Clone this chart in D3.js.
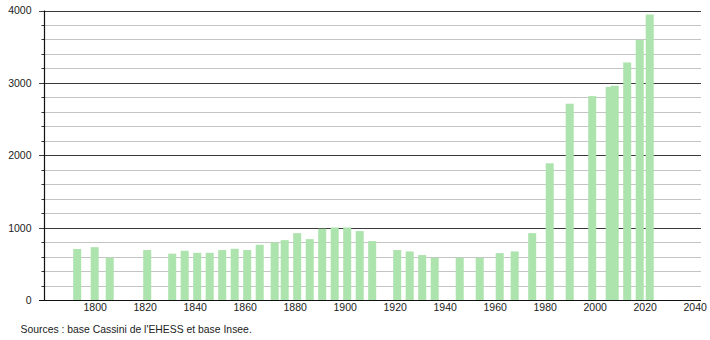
<!DOCTYPE html>
<html>
<head>
<meta charset="utf-8">
<script src="https://cdn.jsdelivr.net/npm/d3@7"></script>
<style>
  body { margin: 0; background: #fff; }
  svg { display: block; font-family: "Liberation Sans", Arial, sans-serif; }
</style>
</head>
<body>
<svg id="chart" width="710" height="340"></svg>
<script>
const years = [1793, 1800, 1806, 1821, 1831, 1836, 1841, 1846, 1851, 1856, 1861, 1866, 1872, 1876, 1881, 1886, 1891, 1896, 1901, 1906, 1911, 1921, 1926, 1931, 1936, 1946, 1954, 1962, 1968, 1975, 1982, 1990, 1999, 2006, 2008, 2013, 2018, 2022];
const population = [705, 730, 585, 690, 640, 680, 652, 652, 690, 708, 690, 763, 795, 827, 924, 841, 985, 1002, 1002, 952, 814, 690, 671, 621, 584, 584, 584, 648, 671, 924, 1889, 2712, 2817, 2945, 2961, 3282, 3595, 3944];
const xTicks = [1800, 1820, 1840, 1860, 1880, 1900, 1920, 1940, 1960, 1980, 2000, 2020, 2040];
const yMajorTicks = [0, 1000, 2000, 3000, 4000];
const yMinorTicks = d3.range(200, 4000, 200).filter(v => v % 1000 !== 0);
const sourceText = "Sources : base Cassini de l'EHESS et base Insee.";

(function () {
const svg = d3.select("#chart");
const mLeft = 44, mRight = 701, mBottom = 300, mTop = 10.5;

const x = d3.scaleLinear().domain([1800, 2040]).range([94.7, 694.7]);
const y = d3.scaleLinear().domain([0, 4000]).range([mBottom, mTop]);

// minor gridlines
svg.append("g").selectAll("line").data(yMinorTicks).join("line")
  .attr("x1", mLeft).attr("x2", mRight)
  .attr("y1", d => Math.round(y(d)) + 0.5).attr("y2", d => Math.round(y(d)) + 0.5)
  .attr("stroke", "#c4c4c4").attr("stroke-width", 1);
// minor tick marks
svg.append("g").selectAll("line").data(yMinorTicks).join("line")
  .attr("x1", mLeft - 2.5).attr("x2", mLeft)
  .attr("y1", d => Math.round(y(d)) + 0.5).attr("y2", d => Math.round(y(d)) + 0.5)
  .attr("stroke", "#333").attr("stroke-width", 1);

// major gridlines
svg.append("g").selectAll("line").data(yMajorTicks.filter(d => d > 0)).join("line")
  .attr("x1", mLeft - 5).attr("x2", mRight)
  .attr("y1", d => Math.round(y(d)) + 0.5).attr("y2", d => Math.round(y(d)) + 0.5)
  .attr("stroke", "#3a3a3a").attr("stroke-width", 1);

// bars
svg.append("g").selectAll("rect").data(years.map((yr, i) => ({yr, v: population[i]}))).join("rect")
  .attr("x", d => x(d.yr) - 4)
  .attr("width", 8)
  .attr("y", d => y(d.v))
  .attr("height", d => y(0) - y(d.v))
  .attr("fill", "#ade3ad");

// axes lines
svg.append("line").attr("x1", mLeft + 0.5).attr("x2", mLeft + 0.5).attr("y1", mTop).attr("y2", mBottom)
  .attr("stroke", "#111").attr("stroke-width", 1.2);
svg.append("line").attr("x1", mLeft - 5).attr("x2", mRight).attr("y1", mBottom + 0.5).attr("y2", mBottom + 0.5)
  .attr("stroke", "#111").attr("stroke-width", 1.2);

// y labels
const yAxis = d3.axisLeft(y).tickValues(yMajorTicks).tickSize(0).tickPadding(0).tickFormat(d3.format("d"));
const gy = svg.append("g").attr("transform", `translate(31.5,0)`).call(yAxis);
gy.select(".domain").remove();
gy.selectAll("text").attr("font-size", 10.5).attr("fill", "#222")
  .attr("font-family", "'Liberation Sans', Arial, sans-serif");

// x labels
const xAxis = d3.axisBottom(x).tickValues(xTicks).tickSize(0).tickPadding(0).tickFormat(d3.format("d"));
const gx = svg.append("g").attr("transform", `translate(0,${mBottom + 4})`).call(xAxis);
gx.select(".domain").remove();
gx.selectAll("text").attr("font-size", 10.5).attr("fill", "#222")
  .attr("font-family", "'Liberation Sans', Arial, sans-serif");

// source
svg.append("text").attr("x", 20.5).attr("y", 333).attr("font-size", 10.4).attr("fill", "#222")
  .text(sourceText);
})();
</script>
</body>
</html>
